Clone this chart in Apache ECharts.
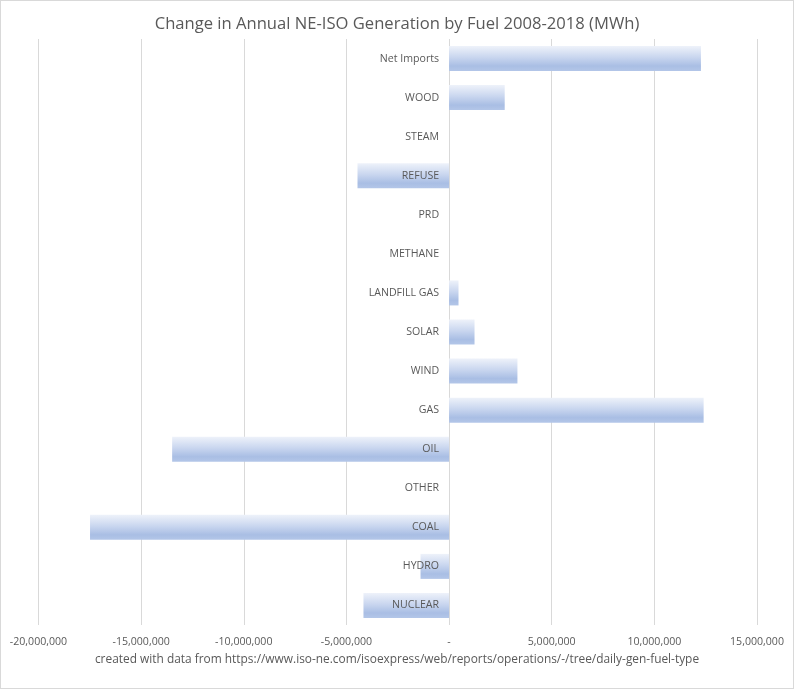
<!DOCTYPE html>
<html>
<head>
<meta charset="utf-8">
<script src="https://cdn.jsdelivr.net/npm/echarts@6/dist/echarts.min.js"></script>
<style>
html,body{margin:0;padding:0;background:#fff;}
#c{width:792px;height:687px;border:1px solid #d9d9d9;}
</style>
</head>
<body>
<div id="c"></div>
<script>
const titleText = 'Change in Annual NE-ISO Generation by Fuel 2008-2018 (MWh)';
const footerText = 'created with data from https://www.iso-ne.com/isoexpress/web/reports/operations/-/tree/daily-gen-fuel-type';
const categories = ['NUCLEAR','HYDRO','COAL','OTHER','OIL','GAS','WIND','SOLAR','LANDFILL GAS','METHANE','PRD','REFUSE','STEAM','WOOD','Net Imports'];
const values = [-4170000,-1390000,-17490000,0,-13490000,12400000,3330000,1240000,460000,0,0,-4460000,0,2710000,12270000];
const axisMin = -20000000, axisMax = 15000000, axisStep = 5000000;

const FONT = '"Open Sans",sans-serif';
const chart = echarts.init(document.getElementById('c'));
chart.setOption({
  animation: false,
  title: {
    text: titleText, left: 'center', top: 10,
    textStyle: {fontFamily: FONT, fontSize: 16.6, fontWeight: 'normal', color: '#595959'}
  },
  graphic: [{
    type: 'text', left: 'center', top: 653,
    style: {text: footerText, fontFamily: FONT, fontSize: 11.9, fill: '#595959'}
  }],
  grid: {left: 37.5, right: 36, top: 38, bottom: 63, containLabel: false, outerBoundsMode: 'none'},
  xAxis: {
    type: 'value', min: axisMin, max: axisMax, interval: axisStep,
    axisLine: {show: false}, axisTick: {show: false},
    splitLine: {lineStyle: {color: '#d9d9d9', width: 1}},
    axisLabel: {
      color: '#595959', fontFamily: FONT, fontSize: 10.6, margin: 11,
      formatter: v => v === 0 ? '-' : v.toLocaleString('en-US')
    }
  },
  yAxis: {
    type: 'category', data: categories,
    axisLine: {show: false}, axisTick: {show: false}, axisLabel: {show: false}
  },
  series: [{
    type: 'bar', data: values, barCategoryGap: '36%', z: 2,
    itemStyle: {
      color: new echarts.graphic.LinearGradient(0, 0, 0, 1, [
        {offset: 0, color: '#eef2fa'},
        {offset: 0.45, color: '#c9d6ef'},
        {offset: 0.8, color: '#a9bee4'},
        {offset: 1, color: '#b3c6e8'}
      ])
    }
  }, {
    type: 'bar', data: categories.map(() => 0), barGap: '-100%', z: 5,
    itemStyle: {color: 'rgba(0,0,0,0)'},
    silent: true,
    label: {
      show: true, position: 'left', distance: 10,
      color: '#595959', fontFamily: FONT, fontSize: 10.6,
      formatter: p => p.name
    }
  }]
});
</script>
</body>
</html>
